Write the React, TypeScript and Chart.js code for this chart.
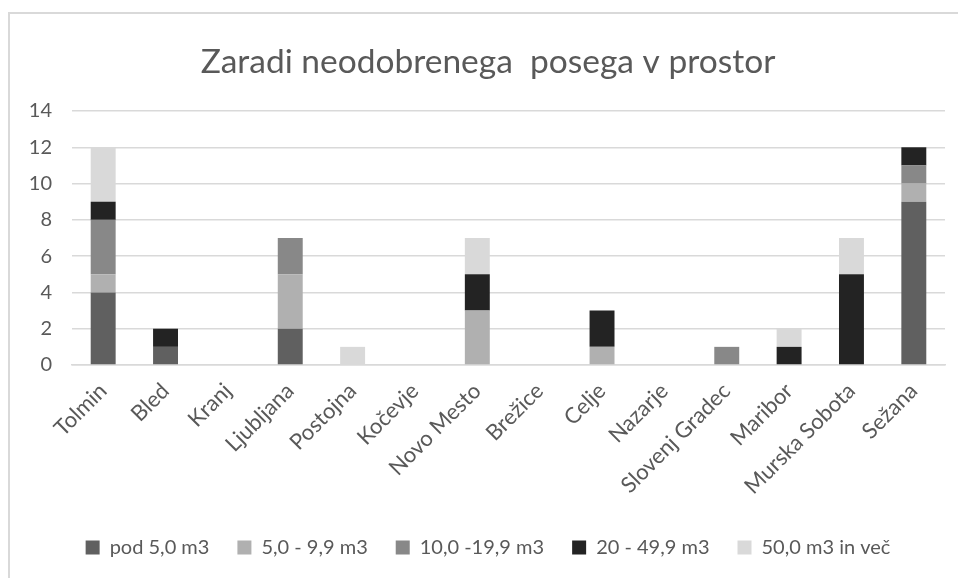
import React, { useEffect, useRef } from "react";
import { Chart, registerables } from "chart.js";

Chart.register(...registerables);

const categories = [
  "Tolmin", "Bled", "Kranj", "Ljubljana", "Postojna", "Kočevje", "Novo Mesto",
  "Brežice", "Celje", "Nazarje", "Slovenj Gradec", "Maribor", "Murska Sobota", "Sežana",
];
const seriesNames = ["pod 5,0 m3", "5,0 - 9,9 m3", "10,0 -19,9 m3", "20 - 49,9 m3", "50,0 m3 in več"];
const pod5 = [4, 1, 0, 2, 0, 0, 0, 0, 0, 0, 0, 0, 0, 9];
const s5to10 = [1, 0, 0, 3, 0, 0, 3, 0, 1, 0, 0, 0, 0, 1];
const s10to20 = [3, 0, 0, 2, 0, 0, 0, 0, 0, 0, 1, 0, 0, 1];
const s20to50 = [1, 1, 0, 0, 0, 0, 2, 0, 2, 0, 0, 1, 5, 1];
const s50plus = [3, 0, 0, 0, 1, 0, 2, 0, 0, 0, 0, 1, 2, 0];
const seriesColors = ["#606060", "#b0b0b0", "#888888", "#232323", "#d9d9d9"];
const title = "Zaradi neodobrenega  posega v prostor";

const FONT = "Lato, 'Open Sans', sans-serif";
const TEXT = "#595959";

export default function App() {
  const ref = useRef<HTMLCanvasElement>(null);
  useEffect(() => {
    document.body.style.overflow = "hidden";
    const values = [pod5, s5to10, s10to20, s20to50, s50plus];
    const chart = new Chart(ref.current!, {
      type: "bar",
      data: {
        labels: categories,
        datasets: values.map((v, i) => ({
          label: seriesNames[i],
          data: v,
          backgroundColor: seriesColors[i],
          borderWidth: 0,
          categoryPercentage: 1,
          barPercentage: 0.4,
          yAxisID: "y",
        })),
      },
      options: {
        animation: false,
        responsive: false,
        maintainAspectRatio: false,
        layout: { padding: { left: 18, right: 0, top: 0, bottom: 10.5 } },
        plugins: {
          title: {
            display: true,
            text: title,
            color: TEXT,
            font: { family: FONT, size: 33.5, weight: "normal" },
            padding: { top: 42, bottom: 28.8 },
          },
          legend: {
            position: "bottom",
            labels: {
              color: TEXT,
              font: { family: FONT, size: 20 },
              boxWidth: 14,
              boxHeight: 14,
              padding: 28,
            },
          },
          tooltip: { enabled: false },
        },
        scales: {
          x: {
            stacked: true,
            grid: { display: false, drawTicks: false },
            border: { display: true, color: "#d9d9d9", width: 1.5 },
            ticks: {
              color: TEXT,
              font: { family: FONT, size: 22 },
              minRotation: 45,
              maxRotation: 45,
              padding: 13,
              autoSkip: false,
            },
            afterFit: (s: any) => { s.height = 144.5; },
          },
          y: {
            stacked: true,
            min: 0,
            max: 14,
            grid: { color: "#d9d9d9", lineWidth: 1.5, drawTicks: false },
            border: { display: false },
            ticks: {
              stepSize: 2,
              color: TEXT,
              font: { family: FONT, size: 20 },
              padding: 20,
            },
            afterFit: (s: any) => { s.width = 54; },
          },
          yRight: {
            position: "right",
            display: true,
            grid: { display: false, drawTicks: false },
            border: { display: false },
            ticks: { display: false },
            afterFit: (s: any) => { s.width = 13; },
          },
        },
      },
    });
    return () => chart.destroy();
  }, []);
  return (
    <div style={{ position: "fixed", left: 0, top: 0, width: 958, height: 578, background: "#fff" }}>
      <div
        style={{
          position: "absolute",
          left: 8,
          top: 12,
          width: 960,
          height: 580,
          border: "2px solid #d9d9d9",
          boxSizing: "border-box",
        }}
      />
      <canvas ref={ref} width={958} height={578} style={{ position: "absolute", left: 0, top: 0 }} />
    </div>
  );
}
